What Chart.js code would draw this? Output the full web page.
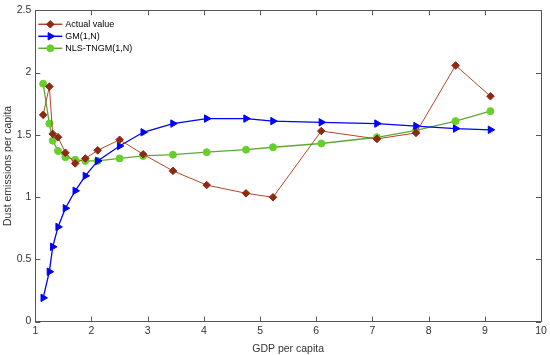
<!DOCTYPE html>
<html>
<head>
<meta charset="utf-8">
<script src="https://cdn.jsdelivr.net/npm/chart.js@4.4.1/dist/chart.umd.min.js"></script>
<style>
  html, body { margin: 0; padding: 0; background: #fff; }
  #wrap { width: 550px; height: 355px; }
</style>
</head>
<body>
<div id="wrap"><canvas id="c"></canvas></div>
<script>
// GDP per capita (x) shared by the three series
var gdp = [1.14, 1.25, 1.31, 1.405, 1.535, 1.71, 1.89, 2.11, 2.50, 2.92, 3.45, 4.05, 4.75, 5.23, 6.09, 7.08, 7.775, 8.48, 9.10];

var actualValue = [1.66, 1.887, 1.507, 1.48, 1.356, 1.27, 1.31, 1.375, 1.46, 1.343, 1.21, 1.096, 1.03, 0.998, 1.53, 1.467, 1.515, 2.057, 1.81];
var gmValue = [0.19, 0.40, 0.60, 0.76, 0.91, 1.05, 1.17, 1.29, 1.41, 1.52, 1.59, 1.63, 1.63, 1.61, 1.60, 1.59, 1.57, 1.55, 1.54];
var nlsValue = [1.91, 1.59, 1.453, 1.37, 1.32, 1.30, 1.29, 1.29, 1.31, 1.33, 1.34, 1.36, 1.38, 1.40, 1.43, 1.48, 1.535, 1.61, 1.69];

var seriesNames = ["Actual value", "GM(1,N)", "NLS-TNGM(1,N)"];
var xTicks = [1, 2, 3, 4, 5, 6, 7, 8, 9, 10];
var yTicks = [0, 0.5, 1, 1.5, 2, 2.5];

function toPoints(ys){
	var out = [];
	for (var i = 0; i < ys.length; i++) {
		out.push({x: gdp[i], y: ys[i]});
	}
	return out;
}

var axisColor = '#555555';
var textColor = '#333333';
var fontFam = '"Liberation Sans", Arial, sans-serif';

// MATLAB style box with inward ticks + legend inside the plot
var boxPlugin = {
	id: 'boxPlugin',
	afterDraw: function(chart){
		var ctx = chart.ctx;
		var a = chart.chartArea;
		var sx = chart.scales.x, sy = chart.scales.y;
		ctx.save();
		ctx.strokeStyle = axisColor;
		ctx.lineWidth = 1;
		ctx.strokeRect(Math.round(a.left) + 0.5, Math.round(a.top) + 0.5, Math.round(a.right - a.left), Math.round(a.bottom - a.top));
		ctx.beginPath();
		xTicks.forEach(function(v){
			var px = Math.round(sx.getPixelForValue(v)) + 0.5;
			ctx.moveTo(px, a.bottom); ctx.lineTo(px, a.bottom - 5);
			ctx.moveTo(px, a.top); ctx.lineTo(px, a.top + 5);
		});
		yTicks.forEach(function(v){
			var py = Math.round(sy.getPixelForValue(v)) + 0.5;
			ctx.moveTo(a.left, py); ctx.lineTo(a.left + 5, py);
			ctx.moveTo(a.right, py); ctx.lineTo(a.right - 5, py);
		});
		ctx.stroke();

		// legend
		var lx = a.left + 3, ly = a.top + 14;
		chart.data.datasets.forEach(function(ds, i){
			var y = ly + i * 12;
			ctx.strokeStyle = ds.borderColor;
			ctx.lineWidth = 1.5;
			ctx.beginPath();
			ctx.moveTo(lx, y); ctx.lineTo(lx + 24, y);
			ctx.stroke();
			ctx.fillStyle = ds.pointBackgroundColor;
			ctx.strokeStyle = ds.pointBorderColor;
			ctx.lineWidth = 1;
			Chart.helpers.drawPoint(ctx, {
				pointStyle: ds.pointStyle,
				radius: ds.pointRadius,
				rotation: ds.pointRotation || 0,
				borderWidth: 1
			}, lx + 12, y);
			ctx.fillStyle = '#000';
			ctx.font = '9px ' + fontFam;
			ctx.textBaseline = 'middle';
			ctx.fillText(ds.label, lx + 27, y + 0.5);
		});
		ctx.restore();
	}
};

new Chart(document.getElementById("c"), {
	type: 'line',
	data: {
		datasets: [
			{
				label: seriesNames[0],
				data: toPoints(actualValue),
				borderColor: '#b0482c',
				borderWidth: 1,
				pointStyle: 'rectRot',
				pointRadius: 3.8,
				pointBackgroundColor: '#8c2a12',
				pointBorderColor: '#8c2a12',
				pointBorderWidth: 1
			},
			{
				label: seriesNames[1],
				data: toPoints(gmValue),
				borderColor: '#0000ff',
				borderWidth: 1.3,
				pointStyle: 'triangle',
				pointRotation: 90,
				pointRadius: 4.3,
				pointBackgroundColor: '#0000ff',
				pointBorderColor: '#0000ff',
				pointBorderWidth: 1
			},
			{
				label: seriesNames[2],
				data: toPoints(nlsValue),
				borderColor: '#5ea83a',
				borderWidth: 1.3,
				pointStyle: 'circle',
				pointRadius: 3.5,
				pointBackgroundColor: '#66d02a',
				pointBorderColor: '#66d02a',
				pointBorderWidth: 1
			}
		]
	},
	plugins: [boxPlugin],
	options: {
		responsive: true,
		maintainAspectRatio: false,
		animation: false,
		layout: { padding: { top: 7, right: 9, left: 0, bottom: 0 } },
		plugins: {
			legend: { display: false },
			tooltip: { enabled: false }
		},
		elements: { line: { tension: 0 } },
		scales: {
			x: {
				type: 'linear',
				min: 1,
				max: 10,
				afterBuildTicks: function(s){ s.ticks = xTicks.map(function(v){ return {value: v}; }); },
				afterFit: function(s){ s.height = 33.5; },
				grid: { display: false, drawTicks: false },
				border: { display: false },
				ticks: { color: textColor, font: { size: 10.5, family: fontFam }, padding: 3, callback: function(v){ return String(v); } },
				title: { display: true, text: 'GDP per capita', color: textColor, font: { size: 10.5, family: fontFam }, padding: { top: 1, bottom: 0 } }
			},
			y: {
				type: 'linear',
				min: 0,
				max: 2.5,
				afterBuildTicks: function(s){ s.ticks = yTicks.map(function(v){ return {value: v}; }); },
				afterFit: function(s){ s.width = 35.3; },
				grid: { display: false, drawTicks: false },
				border: { display: false },
				ticks: { color: textColor, font: { size: 10.5, family: fontFam }, padding: 4, callback: function(v){ return String(v); } },
				title: { display: true, text: 'Dust emissions per capita', color: textColor, font: { size: 10.5, family: fontFam }, padding: { top: 2, bottom: 1 } }
			}
		}
	}
});
</script>
</body>
</html>
